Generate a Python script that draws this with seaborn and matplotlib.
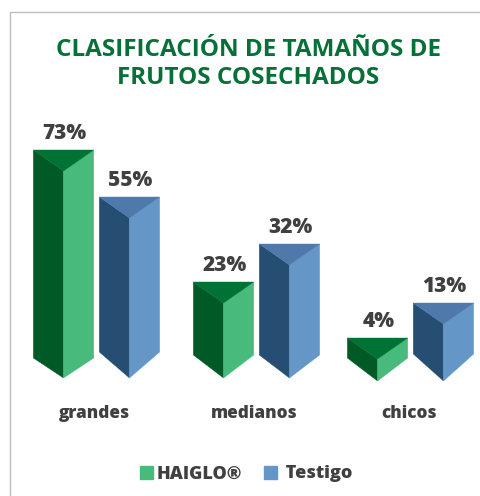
"""
Clasificacion de tamanos de frutos, triangular 3D bars
"""

import matplotlib
matplotlib.use('Agg')
import matplotlib.pyplot as plt
from matplotlib.lines import Line2D
from matplotlib.patches import Patch, Polygon
from matplotlib.transforms import Affine2D
import numpy as np
import pandas as pd
import seaborn as sns

categories = ['grandes', 'medianos', 'chicos']
series_names = ['HAIGLO®', 'Testigo']
haiglo = [73, 23, 4]
testigo = [55, 32, 13]

# the bars of the original are not proportional, so the y axis is a read-off scale
scale_values = [-43, 0, 4, 13, 23, 32, 55, 73, 128]
scale_pixels = [496, 378, 338, 303, 282, 244, 197, 150, 0]

W, H = 480, 496
TOP_DEPTH = 21
green = {'front': '#48BA7C', 'side': '#005A26', 'top': '#007234'}
blue = {'front': '#6497C8', 'side': '#264E72', 'top': '#4F78AB'}
text_color = '#404040'

# small per group/bar corrections in pixels
group_shift = [-0.5, 2.5, -0.5]
floor_shift = [0, 0, 3]
side_lift = [[20, 26], [23, 23], [23, 27]]

df = pd.DataFrame({
    'categoria': categories * 2,
    'serie': [series_names[0]] * 3 + [series_names[1]] * 3,
    'valor': haiglo + testigo,
})

sns.set_theme(style='white')
plt.rcParams['font.family'] = ['Open Sans', 'DejaVu Sans']

fig = plt.figure(figsize=(W / 100, H / 100), dpi=100, facecolor='white')
ax = fig.add_axes([0, 0, 1, 1])
sns.barplot(data=df, x='categoria', y='valor', hue='serie', order=categories,
            hue_order=series_names, width=0.84, gap=0.085, legend=False, ax=ax)


def to_px(v):
    return -np.interp(v, scale_values, scale_pixels)


def from_px(p):
    return np.interp(p, [-x for x in scale_pixels], scale_values)


ax.set_yscale('function', functions=(to_px, from_px))
ax.set_ylim(scale_values[0], scale_values[-1])
ax.set_xlim(-97 / 157, (W - 97) / 157)
ax.axis('off')

# pixel coordinates, origin top left
px = Affine2D().scale(1, -1).translate(0, H)

for container, colors in zip(ax.containers, [green, blue]):
    j = 0 if colors is green else 1
    for i, bar in enumerate(container):
        bar.set_visible(False)
        left = ax.transData.transform((bar.get_x(), 0))[0] + group_shift[i]
        right = ax.transData.transform((bar.get_x() + bar.get_width(), 0))[0] + group_shift[i]
        mid = (left + right) / 2
        top = H - ax.transData.transform((0, bar.get_height()))[1]
        tip = H - ax.transData.transform((0, 0))[1] + floor_shift[i]
        side = tip - side_lift[i][j]
        faces = [
            ([(left, top), (mid, top + TOP_DEPTH), (mid, tip), (left, side)], colors['side']),
            ([(mid, top + TOP_DEPTH), (right, top), (right, side), (mid, tip)], colors['front']),
            ([(left, top), (right, top), (mid, top + TOP_DEPTH)], colors['top']),
        ]
        for pts, c in faces:
            ax.add_patch(Polygon(pts, closed=True, facecolor=c, edgecolor=c, lw=0.3,
                                 transform=px, clip_on=False))
        ax.text(mid + 1, top - 16.5, f'{bar.get_height():.0f}%', transform=px, ha='center',
                va='center', fontsize=15, fontweight=800, color=text_color)

for i, cat in enumerate(categories):
    x = ax.transData.transform((i, 0))[0] + group_shift[i] - 2
    ax.text(x, 414, cat, transform=px, ha='center', va='center', fontsize=12.3,
            fontweight=800, color=text_color)

fig.text(248.5 / W, 1 - 64 / H, 'CLASIFICACIÓN DE TAMAÑOS DE\nFRUTOS COSECHADOS', ha='center',
         va='center', fontsize=17.5, fontweight='bold', color='#057038', linespacing=1.2)

# frame, left and top only
fig.add_artist(Line2D([9.5 / W, 9.5 / W, 1], [0, 1 - 11.5 / H, 1 - 11.5 / H], color='#BDBDBD', lw=1))

handles = [Patch(color=green['front'], label=series_names[0]),
           Patch(color=blue['front'], label=' ' + series_names[1])]
fig.legend(handles=handles, loc='center', bbox_to_anchor=(246 / W, 1 - 474 / H), ncols=2,
           frameon=False, handlelength=0.72, handleheight=0.72, handletextpad=0.22, columnspacing=1.2,
           prop={'size': 13, 'weight': 800}, labelcolor=text_color)

fig.savefig('out.png', dpi=100)
